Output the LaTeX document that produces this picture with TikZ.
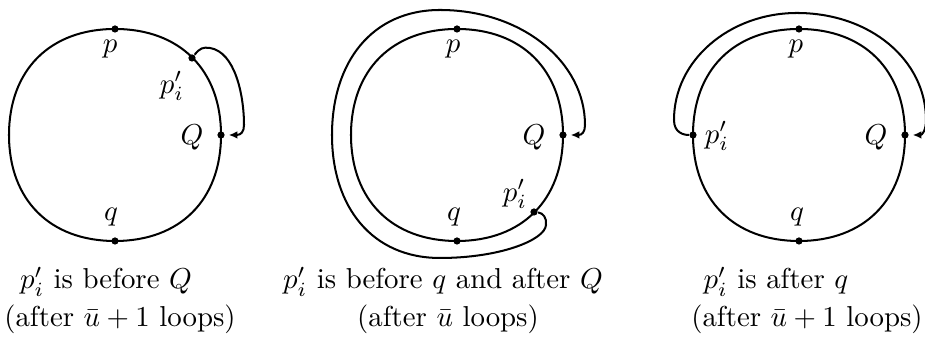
\documentclass[tikz,border=0pt]{standalone}
\usepackage{amsmath,amssymb}
\usepackage{tikz}
\usetikzlibrary{positioning,arrows.meta}
\newcommand{\squircle}[1]{%
  \draw[curve] (#1,29) .. controls +(65,0) and +(0,-65) .. (#1+106,135)
    .. controls +(0,65) and +(65,0) .. (#1,241)
    .. controls +(-65,0) and +(0,65) .. (#1-106,135)
    .. controls +(0,-65) and +(-65,0) .. cycle;}

\begin{document}
\begin{tikzpicture}[x=0.347pt, y=-0.347pt, >={Latex[length=3pt,width=2.6pt]},
      curve/.style={line width=0.7pt},
      dot/.style={circle, fill, inner sep=0pt, minimum size=2.5pt},
      caption/.style={anchor=base, inner sep=0.5pt},
      loopline/.style={line width=0.7pt, ->, shorten >=1.2pt}]
    \useasboundingbox (0,0) rectangle (925,341);
    \squircle{115}
    \squircle{457}
    \squircle{799}
    \node[dot] (p1) at (115,29) {};
    \node[dot] (Q1) at (221,135) {};
    \node[dot] (q1) at (115,241) {};
    \node[dot] (pi1) at (192,58) {};
    \node[dot] (p2) at (457,29) {};
    \node[dot] (Q2) at (563,135) {};
    \node[dot] (q2) at (457,241) {};
    \node[dot] (pi2) at (534,212) {};
    \node[dot] (p3) at (799,29) {};
    \node[dot] (Q3) at (905,135) {};
    \node[dot] (q3) at (799,241) {};
    \node[dot] (pi3) at (693,135) {};
    \node (lp1) at (110,49) {$p$};
    \node (lpi1) at (172,86) {$p'_i$};
    \node (lQ1) at (192,137) {$Q$};
    \node (lq1) at (111,217) {$q$};
    \node (lp2) at (453,49) {$p$};
    \node (lQ2) at (534,137) {$Q$};
    \node (lpi2) at (515,194) {$p'_i$};
    \node (lq2) at (454,217) {$q$};
    \node (lp3) at (796,49) {$p$};
    \node (lpi3) at (717,136) {$p'_i$};
    \node (lQ3) at (876,137) {$Q$};
    \node (lq3) at (797,217) {$q$};
    \draw[loopline] (pi1) .. controls (200,48) and (203,47) .. (210,48)
      .. controls (235,52) and (244,95) .. (244,125)
      .. controls (244,132) and (241,135) .. (Q1);
    \draw[loopline] (pi2) .. controls (543,213) and (547,218) .. (546,225)
      .. controls (545,240) and (500,258) .. (440,258)
      .. controls (372,258) and (332,207) .. (332,135)
      .. controls (332,62) and (372,10) .. (440,10)
      .. controls (522,10) and (585,62) .. (585,125)
      .. controls (585,132) and (582,135) .. (Q2);
    \draw[loopline] (pi3) .. controls (684,135) and (674,133) .. (674,120)
      .. controls (674,60) and (730,13) .. (797,13)
      .. controls (870,13) and (926,60) .. (926,120)
      .. controls (926,131) and (922,135) .. (Q3);
    \node[caption] (cap1a) at (106,289) {$p'_i$ is before $Q$};
    \node[caption] (cap1b) at (120,327) {(after $\bar u+1$ loops)};
    \node[caption] (cap2a) at (443,289) {$p'_i$ is before $q$ and after $Q$};
    \node[caption] (cap2b) at (448,327) {(after $\bar u$ loops)};
    \node[caption] (cap3a) at (776,289) {$p'_i$ is after $q$};
    \node[caption] (cap3b) at (807,327) {(after $\bar u+1$ loops)};
  \end{tikzpicture}
\end{document}
